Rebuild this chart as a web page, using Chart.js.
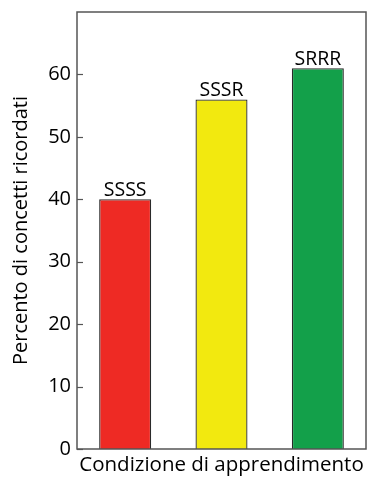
<!DOCTYPE html>
<html>
<head>
<meta charset="utf-8">
<script src="https://cdn.jsdelivr.net/npm/chart.js@4"></script>
<style>
  html, body { margin: 0; padding: 0; background: #fff; }
  #wrap { width: 368px; height: 477px; }
</style>
</head>
<body>
<div id="wrap"><canvas id="chart"></canvas></div>
<script>
// data
const conditions = ['SSSS', 'SSSR', 'SRRR']
const percentRecalled = [40, 56, 61]
const barColors = ['#ee2a24', '#f2e90f', '#13a04a']
const yTicks = [0, 10, 20, 30, 40, 50, 60]

const font = '"Open Sans", "DejaVu Sans", sans-serif'

// box round the plot and inward tick marks
const frame = {
    id: 'frame',
    afterDraw(chart) {
        const {ctx, chartArea: a, scales: {y}} = chart
        ctx.save()
        ctx.strokeStyle = '#555'
        ctx.lineWidth = 1.5
        ctx.strokeRect(a.left, a.top, a.right - a.left, a.bottom - a.top)
        ctx.lineWidth = 1.2
        yTicks.forEach(v => {
            let py = Math.round(y.getPixelForValue(v)) + 0.5
            ctx.beginPath()
            ctx.moveTo(a.left, py)
            ctx.lineTo(a.left + 6, py)
            ctx.stroke()
        })
        ctx.restore()
    }
}

// names above each bar
const barNames = {
    id: 'barNames',
    afterDatasetsDraw(chart) {
        const {ctx} = chart
        ctx.save()
        ctx.font = '19.5px ' + font
        ctx.fillStyle = '#000'
        ctx.textAlign = 'center'
        ctx.textBaseline = 'bottom'
        chart.getDatasetMeta(0).data.forEach((bar, i) => {
            ctx.fillText(conditions[i], bar.x, bar.y + 1)
        })
        ctx.restore()
    }
}

new Chart(document.getElementById('chart'), {
    type: 'bar',
    data: {
        labels: conditions,
        datasets: [{
            data: percentRecalled,
            backgroundColor: barColors,
            borderColor: '#2a2a2a',
            borderWidth: 1.3,
            categoryPercentage: 1,
            barPercentage: 0.54
        }]
    },
    options: {
        responsive: true,
        maintainAspectRatio: false,
        animation: false,
        layout: {padding: {top: 12, right: 2, left: 0, bottom: 0}},
        plugins: {legend: {display: false}, tooltip: {enabled: false}},
        scales: {
            x: {
                grid: {display: false, drawTicks: false},
                border: {display: false},
                ticks: {display: false},
                title: {
                    display: true,
                    text: 'Condizione di apprendimento',
                    color: '#000',
                    font: {family: font, size: 20.5},
                    padding: {top: 2, bottom: 0}
                },
                afterFit(s) { s.height = 28 }
            },
            y: {
                min: 0,
                max: 70,
                afterBuildTicks(s) { s.ticks = yTicks.map(v => ({value: v})) },
                grid: {display: false, drawTicks: false},
                border: {display: false},
                ticks: {
                    color: '#000',
                    padding: 6,
                    font: {family: font, size: 20}
                },
                title: {
                    display: true,
                    text: 'Percento di concetti ricordati',
                    color: '#000',
                    font: {family: font, size: 20},
                    padding: {top: 9, bottom: 0}
                },
                afterFit(s) {
                    s.width = 77
                    s.paddingTop = 0
                    s.paddingBottom = 0
                }
            }
        }
    },
    plugins: [frame, barNames]
})
</script>
</body>
</html>
